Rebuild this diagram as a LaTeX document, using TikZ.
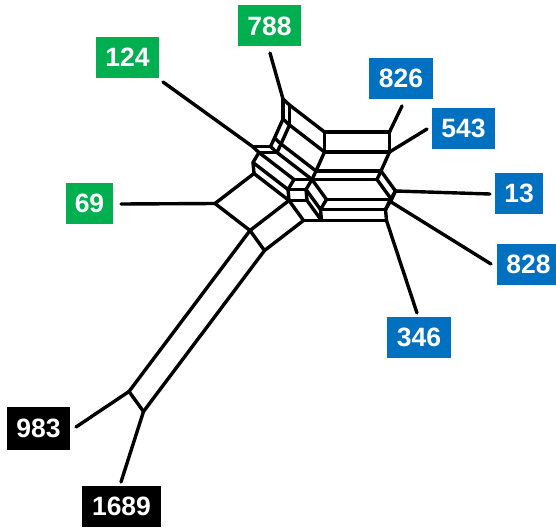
\documentclass[tikz,border=0pt]{standalone}
\usepackage{fontspec}
\setmainfont{Liberation Sans}
\usetikzlibrary{calc}
\definecolor{grp1}{RGB}{0,176,80}
\definecolor{grp2}{RGB}{0,112,192}
\definecolor{grp3}{RGB}{0,0,0}
\begin{document}
\begin{tikzpicture}[x=1pt,y=-1pt,
  edge/.style={line width=3.4pt,line cap=round,line join=round},
  taxon/.style={inner sep=0pt,minimum height=41pt,text=white,
    font=\fontsize{26.5}{30}\selectfont\bfseries}]
\useasboundingbox (0,0) rectangle (556,527);

% split vectors (one edge length and direction per split)
\coordinate (sA)   at (-121,161);
\coordinate (sSa)  at (14.5,20);
\coordinate (sSb)  at (39,-30);
\coordinate (sSc)  at (35,27);
\coordinate (sH)   at (65,0);
\coordinate (sV)   at (0,-20);
\coordinate (sT)   at (-6.5,-6);
\coordinate (sK)   at (18,0);
\coordinate (sW)   at (8.5,-19);
\coordinate (sX)   at (4,-8.5);
\coordinate (sY10) at (6,-10);
\coordinate (sY9)  at (-1,-11);

% network vertices, built as sums of split vectors
\coordinate (N69) at (215,203.5);
\coordinate (B1) at ($(N69)+(sSc)$);
\coordinate (N983) at ($(B1)+(sA)$);
\coordinate (N1689) at ($(N983)+(sSa)$);
\coordinate (B2) at ($(B1)+(sSa)$);
\coordinate (C1) at ($(B1)+(sSb)$);
\coordinate (C2) at ($(C1)+(sSa)$);
\coordinate (l7) at ($(C2)+(sK)$);
\coordinate (l6) at ($(l7)+(sY9)$);
\coordinate (l5) at ($(l6)+(sY10)$);
\coordinate (E1) at ($(C1)+(sK)$);
\coordinate (E2) at ($(E1)+(sY9)$);
\coordinate (l4) at ($(E2)+(sY10)$);
\coordinate (F1) at ($(C1)+(sY9)$);
\coordinate (F2) at ($(F1)+(sY10)$);
\coordinate (D1) at ($(N69)+(sSb)$);
\coordinate (b2) at ($(D1)+(sY9)$);
\coordinate (b1) at ($(b2)+(sY10)$);
\coordinate (N124) at ($(b1)+(sT)$);
\coordinate (a3) at ($(N124)+(sK)$);
\coordinate (a2) at ($(a3)+(sX)$);
\coordinate (a1) at ($(a2)+(sW)$);
\coordinate (N788) at ($(a1)+(sV)$);
\coordinate (G1) at ($(b1)+(sK)$);
\coordinate (G2) at ($(G1)+(sX)$);
\coordinate (G3) at ($(G2)+(sW)$);
\coordinate (P1) at ($(G3)+(sV)$);
\coordinate (l3) at ($(l4)+(sX)$);
\coordinate (l2) at ($(l3)+(sW)$);
\coordinate (l1) at ($(l2)+(sV)$);
\foreach \k in {1,...,7} {\coordinate (r\k) at ($(l\k)+(sH)$);}
\coordinate (N13) at ($(r3)+(sSa)$);
\coordinate (N828) at ($(r6)+(sX)$);

% free ends of the pendant edges
\coordinate (e788) at (270,53);
\coordinate (e124) at (163,82);
\coordinate (e69) at (121,204);
\coordinate (e826) at (402,106);
\coordinate (e543) at (427,129);
\coordinate (e13) at (490,194);
\coordinate (e828) at (491,264);
\coordinate (e346) at (417,313);
\coordinate (e983) at (76,427);
\coordinate (e1689) at (121,482);

% edges of the splits graph
\foreach \a/\b in {
  B1/N983, B2/N1689,
  N983/N1689, B1/B2, C1/C2, E1/l7, E2/l6, l4/l5,
  N69/D1, B1/C1, B2/C2,
  N69/B1, D1/C1, b2/F1, b1/F2, G1/l4, G2/l3, G3/l2, P1/l1,
  C2/l7, C1/E1, F1/E2, F2/l4, b1/G1, N124/a3,
  l7/l6, E1/E2, C1/F1, D1/b2,
  l6/l5, E2/l4, F1/F2, b2/b1,
  l4/l3, G1/G2, a3/a2,
  l3/l2, G2/G3, a2/a1,
  l2/l1, G3/P1, a1/N788,
  N124/b1, a3/G1, a2/G2, a1/G3, N788/P1,
  l1/r1, l2/r2, l3/r3, l4/r4, l5/r5, l6/r6, l7/r7,
  r1/r2, r2/r3, r3/r4, r4/r5, r5/r6, r6/r7,
  r3/N13, N13/r5, N13/N828, N828/r6,
  N69/e69, N124/e124, N788/e788, r1/e826, r2/e543,
  N13/e13, N828/e828, r7/e346, N983/e983, N1689/e1689}
  {\draw[edge] (\a) -- (\b);}

% taxon labels
\node[taxon,fill=grp1,minimum width=63pt] (t788) at (269.5,26) {788};
\node[taxon,fill=grp1,minimum width=63pt] (t124) at (127.5,57.5) {124};
\node[taxon,fill=grp1,minimum width=47pt] (t69) at (89.5,203.5) {69};
\node[taxon,fill=grp2,minimum width=64pt] (t826) at (401,78) {826};
\node[taxon,fill=grp2,minimum width=63pt] (t543) at (463.5,128.5) {543};
\node[taxon,fill=grp2,minimum width=48pt] (t13) at (519,193) {13};
\node[taxon,fill=grp2,minimum width=63pt] (t828) at (528.5,264.5) {828};
\node[taxon,fill=grp2,minimum width=64pt] (t346) at (419,337.5) {346};
\node[taxon,fill=grp3,minimum width=63pt,minimum height=43pt] (t983) at (38.5,428.5) {983};
\node[taxon,fill=grp3,minimum width=79pt] (t1689) at (121.5,506.5) {1689};
\end{tikzpicture}
\end{document}
